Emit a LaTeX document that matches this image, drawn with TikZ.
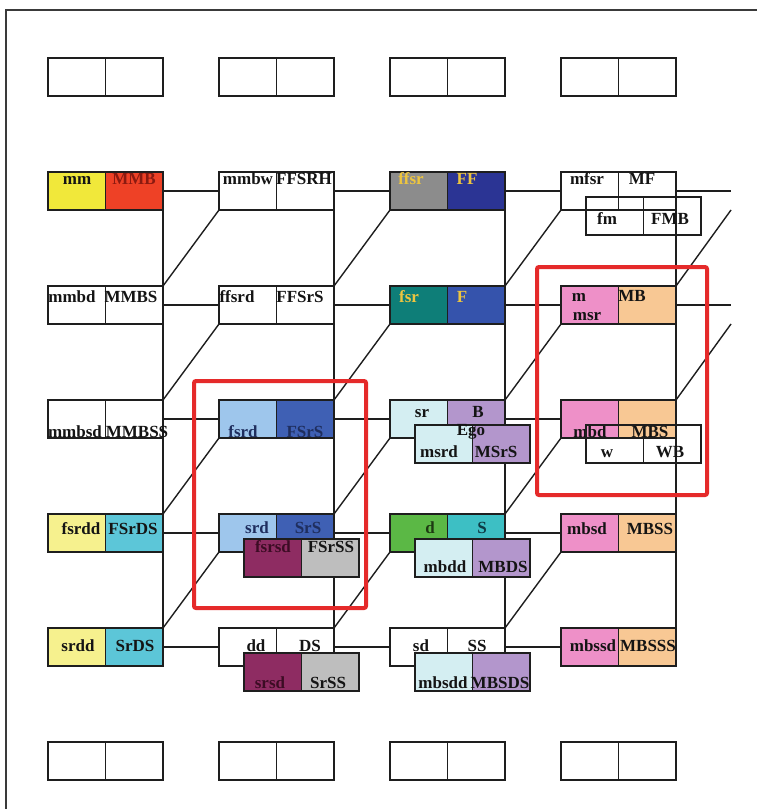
\documentclass[tikz,border=0pt]{standalone}
\usepackage{fontspec}
\setmainfont{Liberation Serif}
\usetikzlibrary{backgrounds}
\definecolor{boxline}{HTML}{1E1E1E}
\definecolor{framec}{HTML}{3A3A3A}
\definecolor{redc}{HTML}{E52A2A}
\definecolor{cyel}{HTML}{F1E83A}
\definecolor{cred}{HTML}{EE4126}
\definecolor{cgray}{HTML}{8C8C8C}
\definecolor{cnavy}{HTML}{2B3494}
\definecolor{cteal}{HTML}{0E7E78}
\definecolor{cblue}{HTML}{3553AC}
\definecolor{clblue}{HTML}{9EC6EC}
\definecolor{cmblue}{HTML}{3F60B4}
\definecolor{cmaroon}{HTML}{8E2C62}
\definecolor{clgray}{HTML}{BEBEBE}
\definecolor{cpcyan}{HTML}{D4EEF2}
\definecolor{clav}{HTML}{B396CC}
\definecolor{cgreen}{HTML}{5BB845}
\definecolor{ctcyan}{HTML}{3DBFC4}
\definecolor{cpink}{HTML}{EE90C8}
\definecolor{cpeach}{HTML}{F8C894}
\definecolor{cpyel}{HTML}{F6F18E}
\definecolor{ccyan}{HTML}{5CC6D8}
\definecolor{txt}{HTML}{141414}
\definecolor{tmmb}{HTML}{8B1A10}
\definecolor{tgold}{HTML}{EDC53F}
\definecolor{tnavy}{HTML}{1F2E5E}
\definecolor{tmaroon}{HTML}{3C0C24}
\definecolor{tgreen}{HTML}{1E3A12}
\definecolor{tteal}{HTML}{0E3A44}
\newcommand\pcell[5]{%
  \node[half,fill=#4] (#1L) at (#2,#3) {};
  \node[half,fill=#5] (#1R) at (#2+57.5,#3) {};}
\newcommand\ocell[3]{%
  \node[half] (#1L) at (#2,#3) {};
  \node[half] (#1R) at (#2+57.5,#3) {};}
\newcommand\lb[5]{\node[lab,text=#4] (#1) at (#2,#3) {#5};}
\begin{document}
\begin{tikzpicture}[x=1pt,y=-1pt,
  half/.style={draw=boxline, line width=1.6pt, minimum width=57.5pt, minimum height=38pt,
    inner sep=0pt, outer sep=0pt, anchor=north west},
  lab/.style={font=\fontsize{17}{19}\selectfont\bfseries, inner sep=0pt, anchor=base},
  conn/.style={draw=boxline, line width=1.4pt},
  redbox/.style={draw=redc, line width=4pt, rounded corners=2pt}]
\useasboundingbox (0,0) rectangle (757,809);
\begin{pgfonlayer}{background}
\fill[white] (0,0) rectangle (757,809);
\end{pgfonlayer}
% frame
\coordinate (fa) at (6,809);
\coordinate (fb) at (6,10);
\coordinate (fc) at (757,10);
\draw[framec, line width=1.2pt] (fa) -- (fb) -- (fc);
% free ends
\coordinate (x1) at (731,191);
\coordinate (x2) at (731,305);
\coordinate (y1) at (731,210);
\coordinate (y2) at (731,324);
% ---------- boxes (main layer) ----------
\pcell{ta}{48}{58}{white}{white}
\pcell{tb}{219}{58}{white}{white}
\pcell{tc}{390}{58}{white}{white}
\pcell{td}{561}{58}{white}{white}
\pcell{ba}{48}{742}{white}{white}
\pcell{bb}{219}{742}{white}{white}
\pcell{bc}{390}{742}{white}{white}
\pcell{bd}{561}{742}{white}{white}
% row 1
\pcell{mm}{48}{172}{cyel}{cred}
\pcell{mmbw}{219}{172}{white}{white}
\pcell{ffsr}{390}{172}{cgray}{cnavy}
\pcell{mfsr}{561}{172}{white}{white}
% row 2
\pcell{mmbd}{48}{286}{white}{white}
\pcell{ffsrd}{219}{286}{white}{white}
\pcell{fsr}{390}{286}{cteal}{cblue}
\pcell{mmsr}{561}{286}{cpink}{cpeach}
% row 3
\pcell{mmbsd}{48}{400}{white}{white}
\pcell{fsrd}{219}{400}{clblue}{cmblue}
\pcell{sr}{390}{400}{cpcyan}{clav}
\pcell{mbd}{561}{400}{cpink}{cpeach}
% row 4
\pcell{fsrdd}{48}{514}{cpyel}{ccyan}
\pcell{srd}{219}{514}{clblue}{cmblue}
\pcell{d}{390}{514}{cgreen}{ctcyan}
\pcell{mbsd}{561}{514}{cpink}{cpeach}
% row 5
\pcell{srdd}{48}{628}{cpyel}{ccyan}
\pcell{dd}{219}{628}{white}{white}
\pcell{sd}{390}{628}{white}{white}
\pcell{mbssd}{561}{628}{cpink}{cpeach}
% ---------- connectors (drawn behind boxes) ----------
\begin{pgfonlayer}{background}
\draw[conn] (mmR.east) -- (mmbwL.west) (mmbwR.east) -- (ffsrL.west) (ffsrR.east) -- (mfsrL.west) (mfsrR.east) -- (x1);
\draw[conn] (mmbdR.east) -- (ffsrdL.west) (ffsrdR.east) -- (fsrL.west) (fsrR.east) -- (mmsrL.west) (mmsrR.east) -- (x2);
\draw[conn] (mmbsdR.east) -- (fsrdL.west) (fsrdR.east) -- (srL.west) (srR.east) -- (mbdL.west);
\draw[conn] (fsrddR.east) -- (srdL.west) (srdR.east) -- (dL.west) (dR.east) -- (mbsdL.west);
\draw[conn] (srddR.east) -- (ddL.west) (ddR.east) -- (sdL.west) (sdR.east) -- (mbssdL.west);
\draw[conn] (mmR.south east) -- (srddR.north east);
\draw[conn] (mmbwR.south east) -- (ddR.north east);
\draw[conn] (ffsrR.south east) -- (sdR.north east);
\draw[conn] (mfsrR.south east) -- (mbssdR.north east);
\draw[conn] (mmbdR.north east) -- (mmbwL.south west);
\draw[conn] (mmbsdR.north east) -- (ffsrdL.south west);
\draw[conn] (fsrddR.north east) -- (fsrdL.south west);
\draw[conn] (srddR.north east) -- (srdL.south west);
\draw[conn] (ffsrdR.north east) -- (ffsrL.south west);
\draw[conn] (fsrdR.north east) -- (fsrL.south west);
\draw[conn] (srdR.north east) -- (srL.south west);
\draw[conn] (ddR.north east) -- (dL.south west);
\draw[conn] (fsrR.north east) -- (mfsrL.south west);
\draw[conn] (srR.north east) -- (mmsrL.south west);
\draw[conn] (dR.north east) -- (mbdL.south west);
\draw[conn] (sdR.north east) -- (mbsdL.south west);
\draw[conn] (mmsrR.north east) -- (y1);
\draw[conn] (mbdR.north east) -- (y2);
\end{pgfonlayer}
% ---------- filled overlay boxes ----------
\pcell{msrd}{415}{425}{cpcyan}{clav}
\pcell{fsrsd}{244}{539}{cmaroon}{clgray}
\pcell{mbdd}{415}{539}{cpcyan}{clav}
\pcell{srsd}{244}{653}{cmaroon}{clgray}
\pcell{mbsdd}{415}{653}{cpcyan}{clav}
% ---------- labels ----------
\lb{lmm}{77}{184}{txt}{mm}
\lb{lMMB}{134}{184}{tmmb}{MMB}
\lb{lmmbw}{248}{184}{txt}{mmbw}
\lb{lFFSRH}{304}{184}{txt}{FFSRH}
\lb{lffsr}{411}{184}{tgold}{ffsr}
\lb{lFF}{467}{184}{tgold}{FF}
\lb{lmfsr}{587}{184}{txt}{mfsr}
\lb{lMF}{642}{184}{txt}{MF}
\lb{lfm}{607}{224}{txt}{fm}
\lb{lFMB}{670}{224}{txt}{FMB}
\lb{lmmbd}{72}{302}{txt}{mmbd}
\lb{lMMBS}{131}{302}{txt}{MMBS}
\lb{lffsrd}{237}{302}{txt}{ffsrd}
\lb{lFFSrS}{300}{302}{txt}{FFSrS}
\lb{lfsr}{409}{302}{tgold}{fsr}
\lb{lF}{462}{302}{tgold}{F}
\lb{lm}{579}{301}{txt}{m}
\lb{lmsr}{587}{320}{txt}{msr}
\lb{lMB}{632}{301}{txt}{MB}
\lb{lmmbsd}{75}{437}{txt}{mmbsd}
\lb{lMMBSS}{137}{437}{txt}{MMBSS}
\lb{lfsrd}{243}{437}{tnavy}{fsrd}
\lb{lFSrS}{305}{437}{tnavy}{FSrS}
\lb{lsr}{422}{417}{txt}{sr}
\lb{lB}{478}{417}{txt}{B}
\lb{lmsrd}{439}{457}{txt}{msrd}
\lb{lMSrS}{496}{457}{txt}{MSrS}
\lb{lEgo}{471}{435}{txt}{Ego}
\lb{lmbd}{590}{437}{txt}{mbd}
\lb{lMBS}{650}{437}{txt}{MBS}
\lb{lw}{607}{457}{txt}{w}
\lb{lWB}{670}{457}{txt}{WB}
\lb{lfsrdd}{81}{534}{txt}{fsrdd}
\lb{lFSrDS}{133}{534}{txt}{FSrDS}
\lb{lsrd}{257}{533}{tnavy}{srd}
\lb{lSrS}{308}{533}{tnavy}{SrS}
\lb{lfsrsd}{273}{552}{tmaroon}{fsrsd}
\lb{lFSrSS}{331}{552}{txt}{FSrSS}
\lb{ld}{430}{533}{tgreen}{d}
\lb{lS}{482}{533}{tteal}{S}
\lb{lmbdd}{445}{572}{txt}{mbdd}
\lb{lMBDS}{503}{572}{txt}{MBDS}
\lb{lmbsd}{587}{534}{txt}{mbsd}
\lb{lMBSS}{650}{534}{txt}{MBSS}
\lb{lsrdd}{78}{651}{txt}{srdd}
\lb{lSrDS}{135}{651}{txt}{SrDS}
\lb{ldd}{256}{651}{txt}{dd}
\lb{lDS}{310}{651}{txt}{DS}
\lb{lsrsd}{270}{688}{tmaroon}{srsd}
\lb{lSrSS}{328}{688}{txt}{SrSS}
\lb{lsd}{421}{651}{txt}{sd}
\lb{lSS}{477}{651}{txt}{SS}
\lb{lmbsdd}{443}{688}{txt}{mbsdd}
\lb{lMBSDS}{500}{688}{txt}{MBSDS}
\lb{lmbssd}{593}{651}{txt}{mbssd}
\lb{lMBSSS}{648}{651}{txt}{MBSSS}
% ---------- transparent overlay boxes ----------
\ocell{fm}{586}{197}
\ocell{w}{586}{425}
% ---------- highlight frames ----------
\coordinate (ra1) at (194,381);
\coordinate (ra2) at (366,608);
\coordinate (rb1) at (537,267);
\coordinate (rb2) at (707,495);
\draw[redbox] (ra1) rectangle (ra2);
\draw[redbox] (rb1) rectangle (rb2);
\end{tikzpicture}
\end{document}
